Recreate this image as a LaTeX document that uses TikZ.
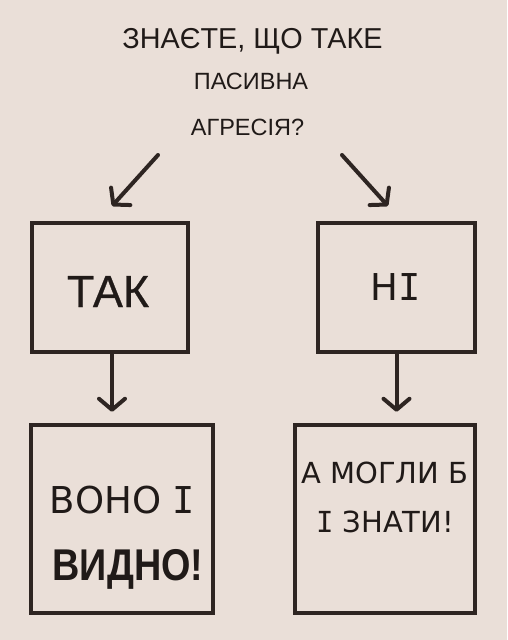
\documentclass[tikz,border=0pt]{standalone}
\usepackage{fontspec}
\setmainfont{Liberation Sans}
\newfontfamily\lsmed[FakeBold=0.6]{Liberation Sans}
\newfontfamily\djv{DejaVu Sans}
\newfontfamily\djvmono{DejaVu Sans Mono}
\usetikzlibrary{arrows.meta}
\definecolor{bg}{HTML}{EADFD8}
\definecolor{ink}{HTML}{2E2522}
\definecolor{tink}{HTML}{201A18}
\tikzset{
  box/.style={draw=ink, line width=4.5pt, inner sep=0pt},
  conn/.style={draw=ink, line width=4pt, line cap=round,
    -{Straight Barb[length=11pt,width=26pt,line cap=round,line join=round]}},
  txt/.style={text=tink, anchor=base, inner sep=0pt}
}
\begin{document}
\begin{tikzpicture}[x=1pt,y=-1pt]
\fill[bg] (0,0) rectangle (507,640);
\useasboundingbox (0,0) rectangle (507,640);
% title
\node[txt, font=\fontsize{28.8}{32}\selectfont] (t1) at (252.5,48) {ЗНАЄТЕ, ЩО ТАКЕ};
\node[txt, font=\fontsize{23.5}{26}\selectfont] (t2) at (251,89) {ПАСИВНА};
\node[txt, font=\fontsize{23.5}{26}\selectfont] (t3) at (247.5,135) {АГРЕСІЯ?};
% boxes
\node[box, minimum width=156pt, minimum height=129pt] (yes) at (110,287.5) {};
\node[box, minimum width=157pt, minimum height=129pt] (no) at (396.5,287.5) {};
\node[box, minimum width=182pt, minimum height=188pt] (seen) at (122,519) {};
\node[box, minimum width=180pt, minimum height=188pt] (know) at (385,519) {};
% texts
\node[txt, font=\lsmed\fontsize{45}{50}\selectfont] (yest) at (108,307) {ТАК};
\node[txt, font=\djv\fontsize{37}{44}\selectfont] (not) at (396,300) {Н{\djvmono І}};
\node[txt, font=\djv\fontsize{37}{44}\selectfont] (s1) at (122.5,513) {ВОНО {\djvmono І}};
\node[txt, font=\bfseries\fontsize{44.5}{48}\selectfont] (s2) at (128,580) {\scalebox{0.85}[1]{ВИДНО!}};
\node[txt, font=\djv\fontsize{29}{34}\selectfont] (k1) at (385,483) {А МОГЛИ Б};
\node[txt, font=\djv\fontsize{29}{34}\selectfont] (k2) at (385,532) {{\djvmono І} ЗНАТИ!};
% arrows
\coordinate (la0) at (158,155);
\coordinate (la1) at (112,206);
\coordinate (ra0) at (342,155);
\coordinate (ra1) at (388,206);
\draw[conn] (la0) -- (la1);
\draw[conn] (ra0) -- (ra1);
\draw[conn, shorten >=11pt] (yes.south -| 112,0) -- (seen.north -| 112,0);
\draw[conn, shorten >=11pt] (no.south) -- (no.south |- know.north);
\end{tikzpicture}
\end{document}
